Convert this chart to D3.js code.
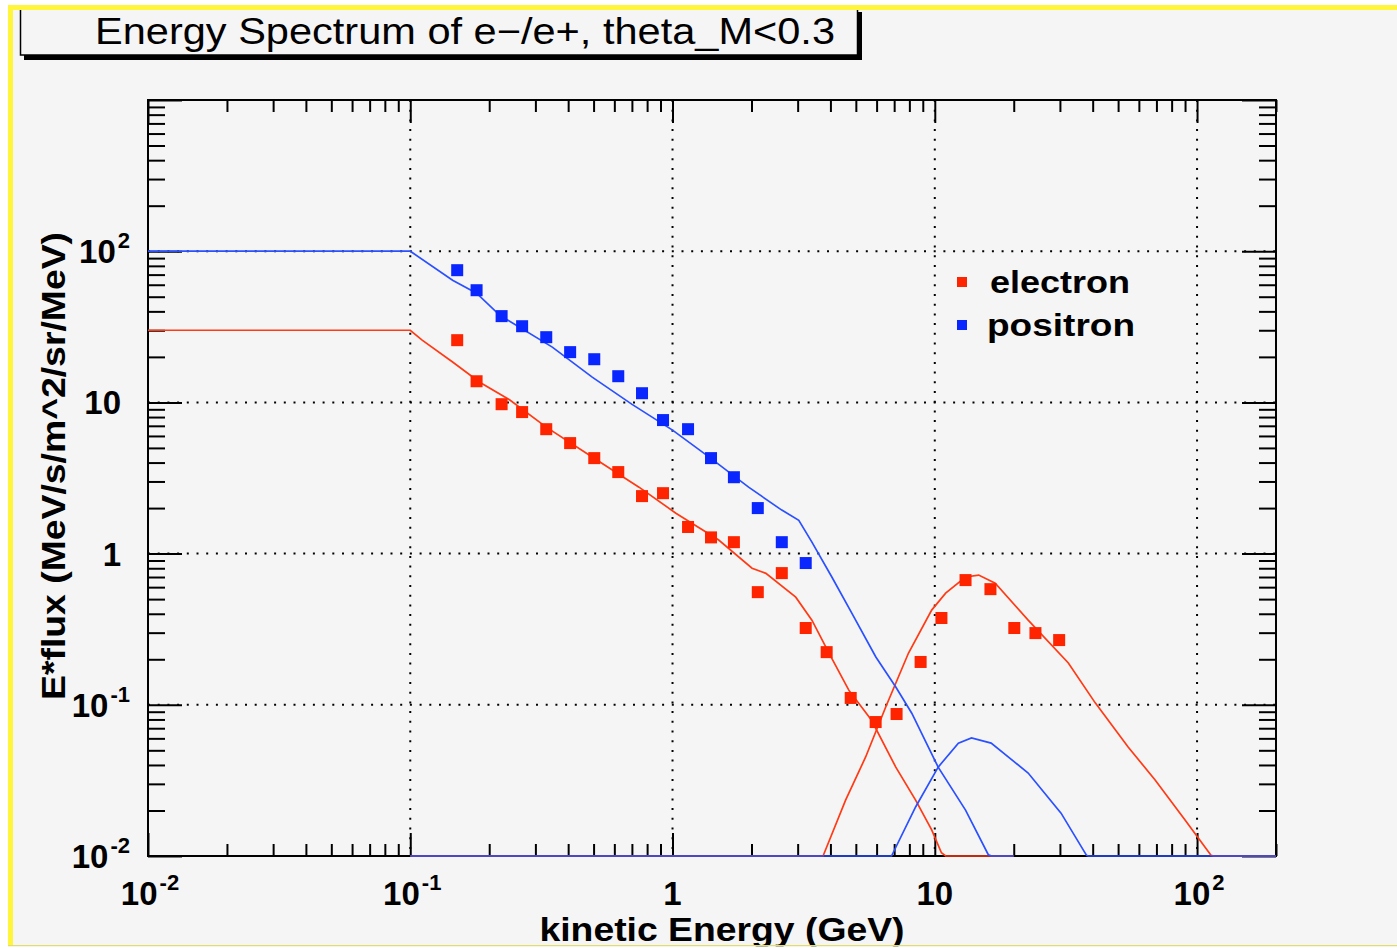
<!DOCTYPE html>
<html>
<head>
<meta charset="utf-8">
<script src="https://cdn.jsdelivr.net/npm/d3@7"></script>
<style>
  body { margin: 0; background: #fff; }
  svg { display: block; font-family: "Liberation Sans", Arial, sans-serif; }
</style>
</head>
<body>
<svg id="chart"></svg>
<script>
// measured points (markers)
const electronE = [0.151, 0.179, 0.223, 0.267, 0.330, 0.407, 0.503, 0.621, 0.765, 0.920, 1.146, 1.402, 1.714, 2.114, 2.61, 3.22, 3.87, 4.78, 5.95, 7.15, 8.83, 10.6, 13.1, 16.3, 20.1, 24.2, 29.8];
const electronFlux = [25.8, 13.8, 9.73, 8.63, 6.65, 5.38, 4.28, 3.46, 2.40, 2.51, 1.50, 1.28, 1.19, 0.556, 0.743, 0.322, 0.223, 0.111, 0.0769, 0.0869, 0.192, 0.375, 0.668, 0.582, 0.322, 0.298, 0.268];
const positronE = [0.151, 0.179, 0.223, 0.267, 0.330, 0.407, 0.503, 0.621, 0.765, 0.920, 1.146, 1.402, 1.714, 2.114, 2.61, 3.22];
const positronFlux = [74.9, 55.2, 37.2, 31.9, 27.0, 21.5, 19.3, 14.9, 11.5, 7.64, 6.65, 4.28, 3.20, 2.00, 1.19, 0.866];

// model curves (0 = below range, drawn on the bottom axis like ROOT does)
const elecPrimE = [0.01, 0.1, 0.111, 0.145, 0.184, 0.239, 0.33, 0.494, 0.745, 1.03, 1.5, 2.01, 2.27, 2.95, 3.4, 3.95, 4.7, 5.74, 7.1, 8.45, 9.73, 10.6, 11, 20];
const elecPrimFlux = [30, 30, 25.8, 18.5, 13.6, 10.4, 6.86, 4.35, 2.75, 1.85, 1.23, 0.80, 0.74, 0.515, 0.363, 0.22, 0.125, 0.079, 0.0387, 0.0234, 0.0149, 0.0105, 0, 0];
const elecSecE = [0.1, 3.75, 4.57, 5.45, 6.5, 7.94, 9.73, 11.0, 13.1, 14.7, 17.0, 22.7, 32.3, 40.9, 54.6, 69.2, 90, 113, 116, 200];
const elecSecFlux = [0, 0, 0.0234, 0.0452, 0.0967, 0.22, 0.423, 0.548, 0.70, 0.721, 0.638, 0.363, 0.189, 0.103, 0.0526, 0.0318, 0.0173, 0.0101, 0, 0];
const posPrimE = [0.01, 0.1, 0.145, 0.179, 0.219, 0.348, 0.494, 0.701, 1.0, 1.38, 1.95, 2.61, 3.03, 3.4, 4.05, 4.82, 5.96, 7.1, 8.17, 10.3, 13.1, 16.0, 16.5, 20];
const posPrimFlux = [100, 100, 64.3, 52.8, 37.8, 23.2, 14.7, 9.7, 6.56, 4.35, 2.75, 1.94, 1.66, 1.19, 0.70, 0.405, 0.207, 0.131, 0.088, 0.0387, 0.0201, 0.0102, 0, 0];
const posSecE = [0.1, 6.84, 8.45, 10.3, 12.3, 13.8, 16.4, 22.7, 30.3, 37.9, 38.5, 200];
const posSecFlux = [0, 0, 0.0211, 0.0387, 0.0558, 0.0603, 0.0558, 0.0354, 0.0192, 0.0101, 0, 0];

const xMajor = [0.01, 0.1, 1, 10, 100];
const xTickLabels = [["10", "-2"], ["10", "-1"], ["1", ""], ["10", ""], ["10", "2"]];
const yMajor = [0.01, 0.1, 1, 10, 100, 1000];
const yTickLabels = [["10", "-2"], ["10", "-1"], ["1", ""], ["10", ""], ["10", "2"], null];

const W = 1397, H = 948;
const red = "#ff3a14", blue = "#2a50ff";
const redMk = "#ff2400", blueMk = "#0a26ff";

const svg = d3.select("#chart").attr("width", W).attr("height", H);

// canvas
svg.append("rect").attr("width", W).attr("height", H).attr("fill", "#fff");
svg.append("rect").attr("x", 8).attr("y", 5).attr("width", W - 8).attr("height", 941).attr("fill", "#f5f5f5");

const x = d3.scaleLog().domain([0.01, 200]).range([148, 1276]);
const y = d3.scaleLog().domain([0.01, 1000]).range([856, 100]);
const yMin = 0.01;

function minors(scale) {
    const [lo, hi] = scale.domain();
    const out = [];
    for (let d = lo; d < hi; d *= 10)
        for (let k = 2; k <= 9; k++) if (d * k <= hi) out.push(d * k);
    return out;
}

// grid
const grid = svg.append("g").attr("stroke", "#000").attr("stroke-width", 2).attr("stroke-dasharray", "2,7.7");
grid.selectAll(".gx").data(xMajor.filter(v => v > 0.01 && v < 200)).enter().append("line")
    .attr("x1", d => x(d)).attr("x2", d => x(d)).attr("y1", 100).attr("y2", 856);
grid.selectAll(".gy").data(yMajor.filter(v => v > 0.01 && v < 1000)).enter().append("line")
    .attr("y1", d => y(d)).attr("y2", d => y(d)).attr("x1", 148).attr("x2", 1276);

// ticks on all four sides, pointing inward
function tickAxis(axis, transform) {
    svg.append("g").attr("transform", transform).call(axis)
        .call(g => g.select(".domain").remove())
        .call(g => g.selectAll("line").attr("stroke", "#000").attr("stroke-width", 2));
}
tickAxis(d3.axisBottom(x).tickValues(xMajor).tickSize(-23).tickFormat(""), "translate(0,856)");
tickAxis(d3.axisBottom(x).tickValues(minors(x)).tickSize(-12).tickFormat(""), "translate(0,856)");
tickAxis(d3.axisTop(x).tickValues(xMajor).tickSize(-23).tickFormat(""), "translate(0,100)");
tickAxis(d3.axisTop(x).tickValues(minors(x)).tickSize(-12).tickFormat(""), "translate(0,100)");
tickAxis(d3.axisLeft(y).tickValues(yMajor).tickSize(-34).tickFormat(""), "translate(148,0)");
tickAxis(d3.axisLeft(y).tickValues(minors(y)).tickSize(-17).tickFormat(""), "translate(148,0)");
tickAxis(d3.axisRight(y).tickValues(yMajor).tickSize(-34).tickFormat(""), "translate(1276,0)");
tickAxis(d3.axisRight(y).tickValues(minors(y)).tickSize(-17).tickFormat(""), "translate(1276,0)");

// frame
svg.append("rect").attr("x", 148).attr("y", 100).attr("width", 1128).attr("height", 756)
    .attr("fill", "none").attr("stroke", "#000").attr("stroke-width", 2);

// tick labels
function label(g, parts) {
    g.append("tspan").text(parts[0]);
    if (parts[1]) g.append("tspan").attr("dy", -15).attr("dx", 2).attr("font-size", 22).text(parts[1]);
}
xMajor.forEach((v, i) => {
    const t = svg.append("text").attr("x", x(v) + (xTickLabels[i][1] ? 2 : 0)).attr("y", 905)
        .attr("text-anchor", "middle").attr("font-size", 33).attr("font-weight", "bold");
    label(t, xTickLabels[i]);
});
yMajor.forEach((v, i) => {
    if (!yTickLabels[i]) return;
    const t = svg.append("text").attr("x", yTickLabels[i][1] ? 130 : 121).attr("y", y(v) + 12)
        .attr("text-anchor", "end").attr("font-size", 33).attr("font-weight", "bold");
    label(t, yTickLabels[i]);
});

// axis titles
svg.append("text").attr("x", 722).attr("y", 941).attr("text-anchor", "middle")
    .attr("font-size", 34).attr("font-weight", "bold")
    .attr("textLength", 365).attr("lengthAdjust", "spacingAndGlyphs")
    .text("kinetic Energy (GeV)");
svg.append("text").attr("transform", "translate(65,466) rotate(-90)").attr("text-anchor", "middle")
    .attr("font-size", 34).attr("font-weight", "bold")
    .attr("textLength", 468).attr("lengthAdjust", "spacingAndGlyphs")
    .text("E*flux (MeV/s/m^2/sr/MeV)");

// model curves
const line = d3.line().x(d => x(d[0])).y(d => y(Math.max(yMin, d[1])));
const curves = [
    [elecPrimE, elecPrimFlux, red],
    [elecSecE, elecSecFlux, red],
    [posPrimE, posPrimFlux, blue],
    [posSecE, posSecFlux, blue]
];
curves.forEach(([e, f, c]) => {
    svg.append("path").datum(d3.zip(e, f)).attr("d", line)
        .attr("fill", "none").attr("stroke", c).attr("stroke-width", 1.7);
});

// markers
const mk = 12;
function points(e, f, c) {
    svg.append("g").selectAll("rect").data(d3.zip(e, f)).enter().append("rect")
        .attr("x", d => x(d[0]) - mk / 2).attr("y", d => y(d[1]) - mk / 2)
        .attr("width", mk).attr("height", mk).attr("fill", c);
}
points(electronE, electronFlux, redMk);
points(positronE, positronFlux, blueMk);

// legend
const legend = [["electron", redMk, 282, 140], ["positron", blueMk, 325, 148]];
legend.forEach(([name, c, ly, len]) => {
    svg.append("rect").attr("x", 962 - 5).attr("y", ly - 5).attr("width", 10).attr("height", 10).attr("fill", c);
    svg.append("text").attr("x", name === "electron" ? 990 : 987).attr("y", ly + 11)
        .attr("font-size", 32).attr("font-weight", "bold")
        .attr("textLength", len).attr("lengthAdjust", "spacingAndGlyphs").text(name);
});

// title box with shadow
svg.append("rect").attr("x", 24).attr("y", 55).attr("width", 838).attr("height", 5).attr("fill", "#000");
svg.append("rect").attr("x", 857).attr("y", 12).attr("width", 5).attr("height", 48).attr("fill", "#000");
svg.append("rect").attr("x", 20.5).attr("y", 6).attr("width", 837).attr("height", 49)
    .attr("fill", "#f5f5f5").attr("stroke", "#000").attr("stroke-width", 1.5);
svg.append("text").attr("x", 95).attr("y", 44).attr("font-size", 37)
    .attr("textLength", 740).attr("lengthAdjust", "spacingAndGlyphs")
    .text("Energy Spectrum of e\u2212/e+, theta_M<0.3");

// yellow frame of the canvas
svg.append("rect").attr("x", 8).attr("y", 5).attr("width", W - 8).attr("height", 5).attr("fill", "#fff53a");
svg.append("rect").attr("x", 8).attr("y", 5).attr("width", 5).attr("height", 941).attr("fill", "#fff53a");
svg.append("rect").attr("x", 8).attr("y", 945).attr("width", W - 8).attr("height", 1.5).attr("fill", "#e0dc70");
svg.append("rect").attr("x", 0).attr("y", 946.5).attr("width", W).attr("height", 2).attr("fill", "#fff");
</script>
</body>
</html>
